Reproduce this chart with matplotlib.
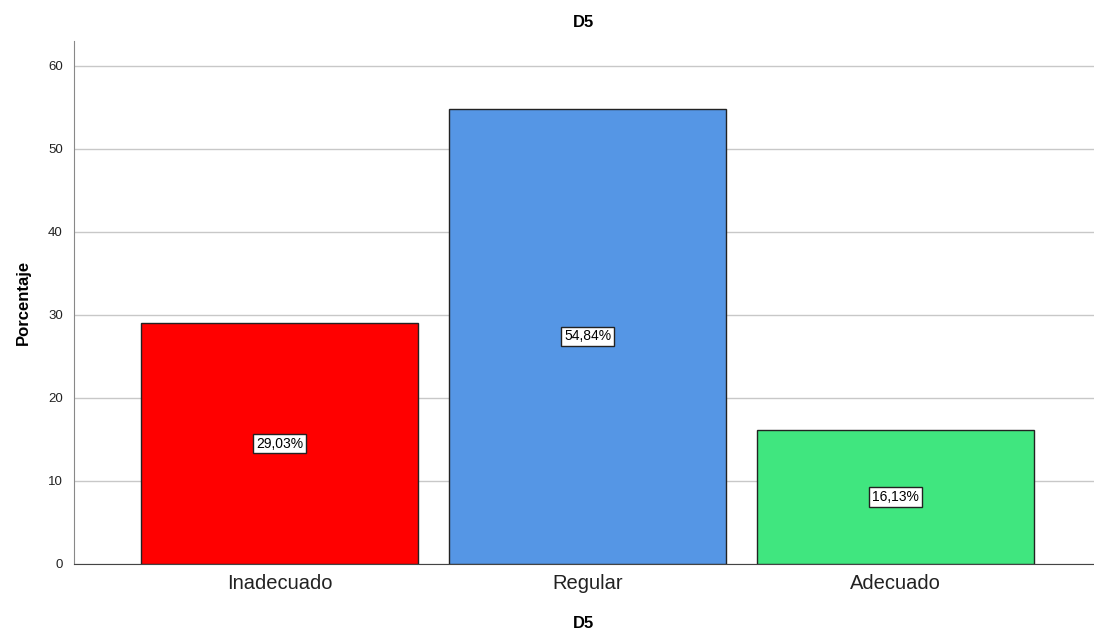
import matplotlib.pyplot as plt

plt.rcParams['font.family'] = ['Liberation Sans', 'DejaVu Sans']

categories = ['Inadecuado', 'Regular', 'Adecuado']
values = [29.03, 54.84, 16.13]
labels = ['29,03%', '54,84%', '16,13%']
colors = ['#FF0000', '#5596E5', '#40E67F']

fig = plt.figure(figsize=(10.94, 6.35), dpi=100)
ax = fig.add_axes([74 / 1094, 71 / 635, 1020 / 1094, 523 / 635])

x = range(len(categories))
ax.bar(x, values, width=0.9, color=colors, edgecolor='#222222', linewidth=1, zorder=3)

for xi, v, lab in zip(x, values, labels):
    ax.text(xi, v / 2, lab, ha='center', va='center', fontsize=10, zorder=4,
            bbox=dict(boxstyle='square,pad=0.2', facecolor='white', edgecolor='#222222', linewidth=1))

ax.set_xlim(-0.667, 2.644)
ax.set_ylim(0, 63)
ax.set_yticks([0, 10, 20, 30, 40, 50, 60])
ax.set_xticks(list(x))
ax.set_xticklabels(categories, fontsize=14.5, color='#222222')
ax.tick_params(axis='x', length=0, pad=7)
ax.tick_params(axis='y', length=0, labelsize=9.5, pad=8, colors='#222222')
ax.yaxis.grid(True, color='#C8C8C8', linewidth=1, zorder=0)

for s in ['top', 'right']:
    ax.spines[s].set_visible(False)
ax.spines['left'].set_color('#888888')
ax.spines['bottom'].set_color('#444444')

ax.set_title('D5', fontsize=12, fontweight='bold', pad=10)
ax.set_xlabel('D5', fontsize=12, fontweight='bold', labelpad=17)
ax.set_ylabel('Porcentaje', fontsize=12, fontweight='bold', labelpad=12)

fig.savefig('out.png', dpi=100)
